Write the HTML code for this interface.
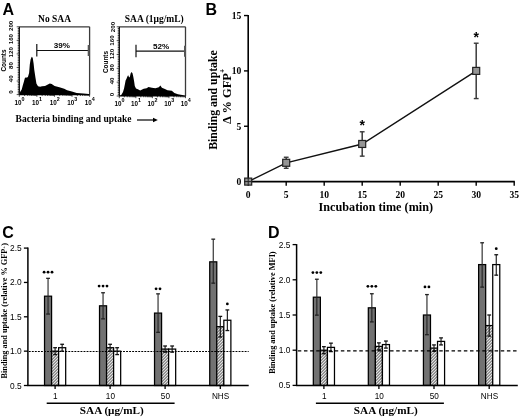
<!DOCTYPE html>
<html><head><meta charset="utf-8"><style>
html,body{margin:0;padding:0;background:#fff;}
svg{display:block;will-change:transform;filter:blur(0.3px);}
</style></head><body>
<svg width="520" height="418" viewBox="0 0 520 418">
<defs>
<pattern id="hatch" patternUnits="userSpaceOnUse" width="2.1213" height="2.1213" patternTransform="rotate(45)">
<rect width="2.1213" height="2.1213" fill="#fff"/>
<line x1="0.5" y1="0" x2="0.5" y2="2.1213" stroke="#3a3a3a" stroke-width="0.85"/>
</pattern>
</defs>
<rect width="520" height="418" fill="#fff"/>
<text x="2.50" y="14.60" font-family='"Liberation Sans", sans-serif' font-size="16" font-weight="bold" text-anchor="start" fill="#000">A</text>
<text x="54.55" y="22.00" font-family='"Liberation Serif", serif' font-size="9.5" font-weight="bold" text-anchor="middle" fill="#000">No SAA</text>
<polygon points="19.3,94.6 19.9,94.0 20.1,92.0 21.7,89.4 22.7,85.7 23.8,82.0 24.8,78.3 25.9,77.3 26.9,77.8 28.0,76.7 29.1,73.0 29.8,64.6 30.6,59.4 31.7,56.7 32.7,57.8 33.6,63.6 34.3,69.9 35.4,77.3 36.4,83.6 38.0,86.2 40.1,86.7 42.0,86.2 45.0,85.9 47.9,84.4 49.8,83.5 51.7,83.9 54.6,85.9 59.4,87.3 64.2,88.8 67.1,90.2 71.9,91.6 76.7,93.1 83.5,93.6 88.8,94.0 89.6,94.6" fill="#000"/>
<line x1="19.30" y1="26.80" x2="89.60" y2="26.80" stroke="#3a3a3a" stroke-width="1.3"/>
<line x1="89.60" y1="26.80" x2="89.60" y2="94.60" stroke="#3a3a3a" stroke-width="1.3"/>
<line x1="19.30" y1="26.80" x2="19.30" y2="94.60" stroke="#000" stroke-width="1.2"/>
<line x1="19.30" y1="94.60" x2="89.60" y2="94.60" stroke="#000" stroke-width="1.2"/>
<line x1="16.70" y1="94.60" x2="19.30" y2="94.60" stroke="#000" stroke-width="0.7"/>
<line x1="17.70" y1="92.91" x2="19.30" y2="92.91" stroke="#000" stroke-width="0.7"/>
<line x1="17.70" y1="91.21" x2="19.30" y2="91.21" stroke="#000" stroke-width="0.7"/>
<line x1="17.70" y1="89.52" x2="19.30" y2="89.52" stroke="#000" stroke-width="0.7"/>
<line x1="17.70" y1="87.82" x2="19.30" y2="87.82" stroke="#000" stroke-width="0.7"/>
<line x1="17.70" y1="86.12" x2="19.30" y2="86.12" stroke="#000" stroke-width="0.7"/>
<line x1="17.70" y1="84.43" x2="19.30" y2="84.43" stroke="#000" stroke-width="0.7"/>
<line x1="17.70" y1="82.73" x2="19.30" y2="82.73" stroke="#000" stroke-width="0.7"/>
<line x1="16.70" y1="81.04" x2="19.30" y2="81.04" stroke="#000" stroke-width="0.7"/>
<line x1="17.70" y1="79.34" x2="19.30" y2="79.34" stroke="#000" stroke-width="0.7"/>
<line x1="17.70" y1="77.65" x2="19.30" y2="77.65" stroke="#000" stroke-width="0.7"/>
<line x1="17.70" y1="75.95" x2="19.30" y2="75.95" stroke="#000" stroke-width="0.7"/>
<line x1="17.70" y1="74.26" x2="19.30" y2="74.26" stroke="#000" stroke-width="0.7"/>
<line x1="17.70" y1="72.56" x2="19.30" y2="72.56" stroke="#000" stroke-width="0.7"/>
<line x1="17.70" y1="70.87" x2="19.30" y2="70.87" stroke="#000" stroke-width="0.7"/>
<line x1="17.70" y1="69.17" x2="19.30" y2="69.17" stroke="#000" stroke-width="0.7"/>
<line x1="16.70" y1="67.48" x2="19.30" y2="67.48" stroke="#000" stroke-width="0.7"/>
<line x1="17.70" y1="65.78" x2="19.30" y2="65.78" stroke="#000" stroke-width="0.7"/>
<line x1="17.70" y1="64.09" x2="19.30" y2="64.09" stroke="#000" stroke-width="0.7"/>
<line x1="17.70" y1="62.39" x2="19.30" y2="62.39" stroke="#000" stroke-width="0.7"/>
<line x1="17.70" y1="60.70" x2="19.30" y2="60.70" stroke="#000" stroke-width="0.7"/>
<line x1="17.70" y1="59.00" x2="19.30" y2="59.00" stroke="#000" stroke-width="0.7"/>
<line x1="17.70" y1="57.31" x2="19.30" y2="57.31" stroke="#000" stroke-width="0.7"/>
<line x1="17.70" y1="55.61" x2="19.30" y2="55.61" stroke="#000" stroke-width="0.7"/>
<line x1="16.70" y1="53.92" x2="19.30" y2="53.92" stroke="#000" stroke-width="0.7"/>
<line x1="17.70" y1="52.22" x2="19.30" y2="52.22" stroke="#000" stroke-width="0.7"/>
<line x1="17.70" y1="50.53" x2="19.30" y2="50.53" stroke="#000" stroke-width="0.7"/>
<line x1="17.70" y1="48.83" x2="19.30" y2="48.83" stroke="#000" stroke-width="0.7"/>
<line x1="17.70" y1="47.14" x2="19.30" y2="47.14" stroke="#000" stroke-width="0.7"/>
<line x1="17.70" y1="45.45" x2="19.30" y2="45.45" stroke="#000" stroke-width="0.7"/>
<line x1="17.70" y1="43.75" x2="19.30" y2="43.75" stroke="#000" stroke-width="0.7"/>
<line x1="17.70" y1="42.05" x2="19.30" y2="42.05" stroke="#000" stroke-width="0.7"/>
<line x1="16.70" y1="40.36" x2="19.30" y2="40.36" stroke="#000" stroke-width="0.7"/>
<line x1="17.70" y1="38.66" x2="19.30" y2="38.66" stroke="#000" stroke-width="0.7"/>
<line x1="17.70" y1="36.97" x2="19.30" y2="36.97" stroke="#000" stroke-width="0.7"/>
<line x1="17.70" y1="35.27" x2="19.30" y2="35.27" stroke="#000" stroke-width="0.7"/>
<line x1="17.70" y1="33.58" x2="19.30" y2="33.58" stroke="#000" stroke-width="0.7"/>
<line x1="17.70" y1="31.88" x2="19.30" y2="31.88" stroke="#000" stroke-width="0.7"/>
<line x1="17.70" y1="30.19" x2="19.30" y2="30.19" stroke="#000" stroke-width="0.7"/>
<line x1="17.70" y1="28.50" x2="19.30" y2="28.50" stroke="#000" stroke-width="0.7"/>
<line x1="16.70" y1="26.80" x2="19.30" y2="26.80" stroke="#000" stroke-width="0.7"/>
<text x="10.40" y="91.90" font-family='"Liberation Sans", sans-serif' font-size="6.2" font-weight="bold" text-anchor="middle" fill="#000" transform="rotate(-90 10.4 91.9)" dominant-baseline="central">0</text>
<text x="10.40" y="78.70" font-family='"Liberation Sans", sans-serif' font-size="6.2" font-weight="bold" text-anchor="middle" fill="#000" transform="rotate(-90 10.4 78.7)" dominant-baseline="central">40</text>
<text x="10.40" y="65.50" font-family='"Liberation Sans", sans-serif' font-size="6.2" font-weight="bold" text-anchor="middle" fill="#000" transform="rotate(-90 10.4 65.5)" dominant-baseline="central">80</text>
<text x="10.40" y="52.30" font-family='"Liberation Sans", sans-serif' font-size="6.2" font-weight="bold" text-anchor="middle" fill="#000" transform="rotate(-90 10.4 52.30000000000001)" dominant-baseline="central">120</text>
<text x="10.40" y="39.10" font-family='"Liberation Sans", sans-serif' font-size="6.2" font-weight="bold" text-anchor="middle" fill="#000" transform="rotate(-90 10.4 39.10000000000001)" dominant-baseline="central">160</text>
<text x="10.40" y="25.90" font-family='"Liberation Sans", sans-serif' font-size="6.2" font-weight="bold" text-anchor="middle" fill="#000" transform="rotate(-90 10.4 25.900000000000006)" dominant-baseline="central">200</text>
<text x="3.10" y="60.50" font-family='"Liberation Sans", sans-serif' font-size="6.4" font-weight="bold" text-anchor="middle" fill="#000" transform="rotate(-90 3.1000000000000014 60.5)" dominant-baseline="central">Counts</text>
<line x1="19.30" y1="94.60" x2="19.30" y2="96.80" stroke="#000" stroke-width="0.7"/>
<line x1="24.59" y1="94.60" x2="24.59" y2="95.90" stroke="#000" stroke-width="0.7"/>
<line x1="27.69" y1="94.60" x2="27.69" y2="95.90" stroke="#000" stroke-width="0.7"/>
<line x1="29.88" y1="94.60" x2="29.88" y2="95.90" stroke="#000" stroke-width="0.7"/>
<line x1="31.58" y1="94.60" x2="31.58" y2="95.90" stroke="#000" stroke-width="0.7"/>
<line x1="32.98" y1="94.60" x2="32.98" y2="95.90" stroke="#000" stroke-width="0.7"/>
<line x1="34.15" y1="94.60" x2="34.15" y2="95.90" stroke="#000" stroke-width="0.7"/>
<line x1="35.17" y1="94.60" x2="35.17" y2="95.90" stroke="#000" stroke-width="0.7"/>
<line x1="36.07" y1="94.60" x2="36.07" y2="95.90" stroke="#000" stroke-width="0.7"/>
<line x1="36.88" y1="94.60" x2="36.88" y2="96.80" stroke="#000" stroke-width="0.7"/>
<line x1="42.17" y1="94.60" x2="42.17" y2="95.90" stroke="#000" stroke-width="0.7"/>
<line x1="45.26" y1="94.60" x2="45.26" y2="95.90" stroke="#000" stroke-width="0.7"/>
<line x1="47.46" y1="94.60" x2="47.46" y2="95.90" stroke="#000" stroke-width="0.7"/>
<line x1="49.16" y1="94.60" x2="49.16" y2="95.90" stroke="#000" stroke-width="0.7"/>
<line x1="50.55" y1="94.60" x2="50.55" y2="95.90" stroke="#000" stroke-width="0.7"/>
<line x1="51.73" y1="94.60" x2="51.73" y2="95.90" stroke="#000" stroke-width="0.7"/>
<line x1="52.75" y1="94.60" x2="52.75" y2="95.90" stroke="#000" stroke-width="0.7"/>
<line x1="53.65" y1="94.60" x2="53.65" y2="95.90" stroke="#000" stroke-width="0.7"/>
<line x1="54.45" y1="94.60" x2="54.45" y2="96.80" stroke="#000" stroke-width="0.7"/>
<line x1="59.74" y1="94.60" x2="59.74" y2="95.90" stroke="#000" stroke-width="0.7"/>
<line x1="62.84" y1="94.60" x2="62.84" y2="95.90" stroke="#000" stroke-width="0.7"/>
<line x1="65.03" y1="94.60" x2="65.03" y2="95.90" stroke="#000" stroke-width="0.7"/>
<line x1="66.73" y1="94.60" x2="66.73" y2="95.90" stroke="#000" stroke-width="0.7"/>
<line x1="68.13" y1="94.60" x2="68.13" y2="95.90" stroke="#000" stroke-width="0.7"/>
<line x1="69.30" y1="94.60" x2="69.30" y2="95.90" stroke="#000" stroke-width="0.7"/>
<line x1="70.32" y1="94.60" x2="70.32" y2="95.90" stroke="#000" stroke-width="0.7"/>
<line x1="71.22" y1="94.60" x2="71.22" y2="95.90" stroke="#000" stroke-width="0.7"/>
<line x1="72.02" y1="94.60" x2="72.02" y2="96.80" stroke="#000" stroke-width="0.7"/>
<line x1="77.32" y1="94.60" x2="77.32" y2="95.90" stroke="#000" stroke-width="0.7"/>
<line x1="80.41" y1="94.60" x2="80.41" y2="95.90" stroke="#000" stroke-width="0.7"/>
<line x1="82.61" y1="94.60" x2="82.61" y2="95.90" stroke="#000" stroke-width="0.7"/>
<line x1="84.31" y1="94.60" x2="84.31" y2="95.90" stroke="#000" stroke-width="0.7"/>
<line x1="85.70" y1="94.60" x2="85.70" y2="95.90" stroke="#000" stroke-width="0.7"/>
<line x1="86.88" y1="94.60" x2="86.88" y2="95.90" stroke="#000" stroke-width="0.7"/>
<line x1="87.90" y1="94.60" x2="87.90" y2="95.90" stroke="#000" stroke-width="0.7"/>
<line x1="88.80" y1="94.60" x2="88.80" y2="95.90" stroke="#000" stroke-width="0.7"/>
<line x1="89.60" y1="94.60" x2="89.60" y2="96.80" stroke="#000" stroke-width="0.7"/>
<text x="18.00" y="104.60" font-family='"Liberation Sans", sans-serif' font-size="6.3" font-weight="bold" text-anchor="middle" fill="#000">10</text>
<text x="21.50" y="100.60" font-family='"Liberation Sans", sans-serif' font-size="5.4" font-weight="bold" text-anchor="start" fill="#000">0</text>
<text x="35.58" y="104.60" font-family='"Liberation Sans", sans-serif' font-size="6.3" font-weight="bold" text-anchor="middle" fill="#000">10</text>
<text x="39.08" y="100.60" font-family='"Liberation Sans", sans-serif' font-size="5.4" font-weight="bold" text-anchor="start" fill="#000">1</text>
<text x="53.15" y="104.60" font-family='"Liberation Sans", sans-serif' font-size="6.3" font-weight="bold" text-anchor="middle" fill="#000">10</text>
<text x="56.65" y="100.60" font-family='"Liberation Sans", sans-serif' font-size="5.4" font-weight="bold" text-anchor="start" fill="#000">2</text>
<text x="70.72" y="104.60" font-family='"Liberation Sans", sans-serif' font-size="6.3" font-weight="bold" text-anchor="middle" fill="#000">10</text>
<text x="74.22" y="100.60" font-family='"Liberation Sans", sans-serif' font-size="5.4" font-weight="bold" text-anchor="start" fill="#000">3</text>
<text x="88.30" y="104.60" font-family='"Liberation Sans", sans-serif' font-size="6.3" font-weight="bold" text-anchor="middle" fill="#000">10</text>
<text x="91.80" y="100.60" font-family='"Liberation Sans", sans-serif' font-size="5.4" font-weight="bold" text-anchor="start" fill="#000">4</text>
<line x1="36.80" y1="50.50" x2="88.70" y2="50.50" stroke="#111" stroke-width="1.2"/>
<line x1="36.80" y1="44.00" x2="36.80" y2="56.50" stroke="#111" stroke-width="1.2"/>
<line x1="88.70" y1="45.00" x2="88.70" y2="56.00" stroke="#555" stroke-width="2.0"/>
<text x="61.90" y="48.00" font-family='"Liberation Sans", sans-serif' font-size="8.1" font-weight="bold" text-anchor="middle" fill="#000">39%</text>
<text x="154.30" y="22.00" font-family='"Liberation Serif", serif' font-size="9.5" font-weight="bold" text-anchor="middle" fill="#000">SAA (1μg/mL)</text>
<polygon points="119.3,96.0 119.5,96.0 121.4,94.7 123.0,92.0 124.1,88.2 124.9,84.3 125.6,80.5 126.4,79.0 127.6,75.9 128.3,75.2 129.1,77.5 129.9,76.7 130.6,73.6 131.6,72.1 132.5,73.3 133.3,76.7 134.1,81.3 134.8,85.9 136.0,88.6 137.9,89.3 140.2,90.5 141.7,89.7 143.7,88.7 146.6,88.2 148.5,86.9 151.9,87.7 155.4,88.2 158.8,87.3 160.4,85.6 161.9,87.7 164.9,89.0 167.5,90.3 171.8,90.8 174.4,92.9 177.9,94.2 182.2,95.1 184.8,95.8 185.5,96.0" fill="#000"/>
<line x1="119.30" y1="26.80" x2="185.50" y2="26.80" stroke="#3a3a3a" stroke-width="1.3"/>
<line x1="185.50" y1="26.80" x2="185.50" y2="96.00" stroke="#3a3a3a" stroke-width="1.3"/>
<line x1="119.30" y1="26.80" x2="119.30" y2="96.00" stroke="#000" stroke-width="1.2"/>
<line x1="119.30" y1="96.00" x2="185.50" y2="96.00" stroke="#000" stroke-width="1.2"/>
<line x1="116.70" y1="96.00" x2="119.30" y2="96.00" stroke="#000" stroke-width="0.7"/>
<line x1="117.70" y1="94.27" x2="119.30" y2="94.27" stroke="#000" stroke-width="0.7"/>
<line x1="117.70" y1="92.54" x2="119.30" y2="92.54" stroke="#000" stroke-width="0.7"/>
<line x1="117.70" y1="90.81" x2="119.30" y2="90.81" stroke="#000" stroke-width="0.7"/>
<line x1="117.70" y1="89.08" x2="119.30" y2="89.08" stroke="#000" stroke-width="0.7"/>
<line x1="117.70" y1="87.35" x2="119.30" y2="87.35" stroke="#000" stroke-width="0.7"/>
<line x1="117.70" y1="85.62" x2="119.30" y2="85.62" stroke="#000" stroke-width="0.7"/>
<line x1="117.70" y1="83.89" x2="119.30" y2="83.89" stroke="#000" stroke-width="0.7"/>
<line x1="116.70" y1="82.16" x2="119.30" y2="82.16" stroke="#000" stroke-width="0.7"/>
<line x1="117.70" y1="80.43" x2="119.30" y2="80.43" stroke="#000" stroke-width="0.7"/>
<line x1="117.70" y1="78.70" x2="119.30" y2="78.70" stroke="#000" stroke-width="0.7"/>
<line x1="117.70" y1="76.97" x2="119.30" y2="76.97" stroke="#000" stroke-width="0.7"/>
<line x1="117.70" y1="75.24" x2="119.30" y2="75.24" stroke="#000" stroke-width="0.7"/>
<line x1="117.70" y1="73.51" x2="119.30" y2="73.51" stroke="#000" stroke-width="0.7"/>
<line x1="117.70" y1="71.78" x2="119.30" y2="71.78" stroke="#000" stroke-width="0.7"/>
<line x1="117.70" y1="70.05" x2="119.30" y2="70.05" stroke="#000" stroke-width="0.7"/>
<line x1="116.70" y1="68.32" x2="119.30" y2="68.32" stroke="#000" stroke-width="0.7"/>
<line x1="117.70" y1="66.59" x2="119.30" y2="66.59" stroke="#000" stroke-width="0.7"/>
<line x1="117.70" y1="64.86" x2="119.30" y2="64.86" stroke="#000" stroke-width="0.7"/>
<line x1="117.70" y1="63.13" x2="119.30" y2="63.13" stroke="#000" stroke-width="0.7"/>
<line x1="117.70" y1="61.40" x2="119.30" y2="61.40" stroke="#000" stroke-width="0.7"/>
<line x1="117.70" y1="59.67" x2="119.30" y2="59.67" stroke="#000" stroke-width="0.7"/>
<line x1="117.70" y1="57.94" x2="119.30" y2="57.94" stroke="#000" stroke-width="0.7"/>
<line x1="117.70" y1="56.21" x2="119.30" y2="56.21" stroke="#000" stroke-width="0.7"/>
<line x1="116.70" y1="54.48" x2="119.30" y2="54.48" stroke="#000" stroke-width="0.7"/>
<line x1="117.70" y1="52.75" x2="119.30" y2="52.75" stroke="#000" stroke-width="0.7"/>
<line x1="117.70" y1="51.02" x2="119.30" y2="51.02" stroke="#000" stroke-width="0.7"/>
<line x1="117.70" y1="49.29" x2="119.30" y2="49.29" stroke="#000" stroke-width="0.7"/>
<line x1="117.70" y1="47.56" x2="119.30" y2="47.56" stroke="#000" stroke-width="0.7"/>
<line x1="117.70" y1="45.83" x2="119.30" y2="45.83" stroke="#000" stroke-width="0.7"/>
<line x1="117.70" y1="44.10" x2="119.30" y2="44.10" stroke="#000" stroke-width="0.7"/>
<line x1="117.70" y1="42.37" x2="119.30" y2="42.37" stroke="#000" stroke-width="0.7"/>
<line x1="116.70" y1="40.64" x2="119.30" y2="40.64" stroke="#000" stroke-width="0.7"/>
<line x1="117.70" y1="38.91" x2="119.30" y2="38.91" stroke="#000" stroke-width="0.7"/>
<line x1="117.70" y1="37.18" x2="119.30" y2="37.18" stroke="#000" stroke-width="0.7"/>
<line x1="117.70" y1="35.45" x2="119.30" y2="35.45" stroke="#000" stroke-width="0.7"/>
<line x1="117.70" y1="33.72" x2="119.30" y2="33.72" stroke="#000" stroke-width="0.7"/>
<line x1="117.70" y1="31.99" x2="119.30" y2="31.99" stroke="#000" stroke-width="0.7"/>
<line x1="117.70" y1="30.26" x2="119.30" y2="30.26" stroke="#000" stroke-width="0.7"/>
<line x1="117.70" y1="28.53" x2="119.30" y2="28.53" stroke="#000" stroke-width="0.7"/>
<line x1="116.70" y1="26.80" x2="119.30" y2="26.80" stroke="#000" stroke-width="0.7"/>
<text x="112.00" y="94.40" font-family='"Liberation Sans", sans-serif' font-size="6.2" font-weight="bold" text-anchor="middle" fill="#000" transform="rotate(-90 112.0 94.4)" dominant-baseline="central">0</text>
<text x="112.00" y="80.92" font-family='"Liberation Sans", sans-serif' font-size="6.2" font-weight="bold" text-anchor="middle" fill="#000" transform="rotate(-90 112.0 80.92)" dominant-baseline="central">40</text>
<text x="112.00" y="67.44" font-family='"Liberation Sans", sans-serif' font-size="6.2" font-weight="bold" text-anchor="middle" fill="#000" transform="rotate(-90 112.0 67.44)" dominant-baseline="central">80</text>
<text x="112.00" y="53.96" font-family='"Liberation Sans", sans-serif' font-size="6.2" font-weight="bold" text-anchor="middle" fill="#000" transform="rotate(-90 112.0 53.96000000000001)" dominant-baseline="central">120</text>
<text x="112.00" y="40.48" font-family='"Liberation Sans", sans-serif' font-size="6.2" font-weight="bold" text-anchor="middle" fill="#000" transform="rotate(-90 112.0 40.480000000000004)" dominant-baseline="central">160</text>
<text x="112.00" y="27.00" font-family='"Liberation Sans", sans-serif' font-size="6.2" font-weight="bold" text-anchor="middle" fill="#000" transform="rotate(-90 112.0 27.0)" dominant-baseline="central">200</text>
<text x="105.10" y="62.00" font-family='"Liberation Sans", sans-serif' font-size="6.4" font-weight="bold" text-anchor="middle" fill="#000" transform="rotate(-90 105.1 62.0)" dominant-baseline="central">Counts</text>
<line x1="119.30" y1="96.00" x2="119.30" y2="98.20" stroke="#000" stroke-width="0.7"/>
<line x1="124.28" y1="96.00" x2="124.28" y2="97.30" stroke="#000" stroke-width="0.7"/>
<line x1="127.20" y1="96.00" x2="127.20" y2="97.30" stroke="#000" stroke-width="0.7"/>
<line x1="129.26" y1="96.00" x2="129.26" y2="97.30" stroke="#000" stroke-width="0.7"/>
<line x1="130.87" y1="96.00" x2="130.87" y2="97.30" stroke="#000" stroke-width="0.7"/>
<line x1="132.18" y1="96.00" x2="132.18" y2="97.30" stroke="#000" stroke-width="0.7"/>
<line x1="133.29" y1="96.00" x2="133.29" y2="97.30" stroke="#000" stroke-width="0.7"/>
<line x1="134.25" y1="96.00" x2="134.25" y2="97.30" stroke="#000" stroke-width="0.7"/>
<line x1="135.09" y1="96.00" x2="135.09" y2="97.30" stroke="#000" stroke-width="0.7"/>
<line x1="135.85" y1="96.00" x2="135.85" y2="98.20" stroke="#000" stroke-width="0.7"/>
<line x1="140.83" y1="96.00" x2="140.83" y2="97.30" stroke="#000" stroke-width="0.7"/>
<line x1="143.75" y1="96.00" x2="143.75" y2="97.30" stroke="#000" stroke-width="0.7"/>
<line x1="145.81" y1="96.00" x2="145.81" y2="97.30" stroke="#000" stroke-width="0.7"/>
<line x1="147.42" y1="96.00" x2="147.42" y2="97.30" stroke="#000" stroke-width="0.7"/>
<line x1="148.73" y1="96.00" x2="148.73" y2="97.30" stroke="#000" stroke-width="0.7"/>
<line x1="149.84" y1="96.00" x2="149.84" y2="97.30" stroke="#000" stroke-width="0.7"/>
<line x1="150.80" y1="96.00" x2="150.80" y2="97.30" stroke="#000" stroke-width="0.7"/>
<line x1="151.64" y1="96.00" x2="151.64" y2="97.30" stroke="#000" stroke-width="0.7"/>
<line x1="152.40" y1="96.00" x2="152.40" y2="98.20" stroke="#000" stroke-width="0.7"/>
<line x1="157.38" y1="96.00" x2="157.38" y2="97.30" stroke="#000" stroke-width="0.7"/>
<line x1="160.30" y1="96.00" x2="160.30" y2="97.30" stroke="#000" stroke-width="0.7"/>
<line x1="162.36" y1="96.00" x2="162.36" y2="97.30" stroke="#000" stroke-width="0.7"/>
<line x1="163.97" y1="96.00" x2="163.97" y2="97.30" stroke="#000" stroke-width="0.7"/>
<line x1="165.28" y1="96.00" x2="165.28" y2="97.30" stroke="#000" stroke-width="0.7"/>
<line x1="166.39" y1="96.00" x2="166.39" y2="97.30" stroke="#000" stroke-width="0.7"/>
<line x1="167.35" y1="96.00" x2="167.35" y2="97.30" stroke="#000" stroke-width="0.7"/>
<line x1="168.19" y1="96.00" x2="168.19" y2="97.30" stroke="#000" stroke-width="0.7"/>
<line x1="168.95" y1="96.00" x2="168.95" y2="98.20" stroke="#000" stroke-width="0.7"/>
<line x1="173.93" y1="96.00" x2="173.93" y2="97.30" stroke="#000" stroke-width="0.7"/>
<line x1="176.85" y1="96.00" x2="176.85" y2="97.30" stroke="#000" stroke-width="0.7"/>
<line x1="178.91" y1="96.00" x2="178.91" y2="97.30" stroke="#000" stroke-width="0.7"/>
<line x1="180.52" y1="96.00" x2="180.52" y2="97.30" stroke="#000" stroke-width="0.7"/>
<line x1="181.83" y1="96.00" x2="181.83" y2="97.30" stroke="#000" stroke-width="0.7"/>
<line x1="182.94" y1="96.00" x2="182.94" y2="97.30" stroke="#000" stroke-width="0.7"/>
<line x1="183.90" y1="96.00" x2="183.90" y2="97.30" stroke="#000" stroke-width="0.7"/>
<line x1="184.74" y1="96.00" x2="184.74" y2="97.30" stroke="#000" stroke-width="0.7"/>
<line x1="185.50" y1="96.00" x2="185.50" y2="98.20" stroke="#000" stroke-width="0.7"/>
<text x="118.00" y="106.00" font-family='"Liberation Sans", sans-serif' font-size="6.3" font-weight="bold" text-anchor="middle" fill="#000">10</text>
<text x="121.50" y="102.00" font-family='"Liberation Sans", sans-serif' font-size="5.4" font-weight="bold" text-anchor="start" fill="#000">0</text>
<text x="134.55" y="106.00" font-family='"Liberation Sans", sans-serif' font-size="6.3" font-weight="bold" text-anchor="middle" fill="#000">10</text>
<text x="138.05" y="102.00" font-family='"Liberation Sans", sans-serif' font-size="5.4" font-weight="bold" text-anchor="start" fill="#000">1</text>
<text x="151.10" y="106.00" font-family='"Liberation Sans", sans-serif' font-size="6.3" font-weight="bold" text-anchor="middle" fill="#000">10</text>
<text x="154.60" y="102.00" font-family='"Liberation Sans", sans-serif' font-size="5.4" font-weight="bold" text-anchor="start" fill="#000">2</text>
<text x="167.65" y="106.00" font-family='"Liberation Sans", sans-serif' font-size="6.3" font-weight="bold" text-anchor="middle" fill="#000">10</text>
<text x="171.15" y="102.00" font-family='"Liberation Sans", sans-serif' font-size="5.4" font-weight="bold" text-anchor="start" fill="#000">3</text>
<text x="184.20" y="106.00" font-family='"Liberation Sans", sans-serif' font-size="6.3" font-weight="bold" text-anchor="middle" fill="#000">10</text>
<text x="187.70" y="102.00" font-family='"Liberation Sans", sans-serif' font-size="5.4" font-weight="bold" text-anchor="start" fill="#000">4</text>
<line x1="136.00" y1="51.20" x2="185.00" y2="51.20" stroke="#111" stroke-width="1.2"/>
<line x1="136.00" y1="44.70" x2="136.00" y2="57.20" stroke="#111" stroke-width="1.2"/>
<line x1="185.00" y1="45.70" x2="185.00" y2="56.70" stroke="#555" stroke-width="2.0"/>
<text x="161.20" y="48.70" font-family='"Liberation Sans", sans-serif' font-size="8.1" font-weight="bold" text-anchor="middle" fill="#000">52%</text>
<text x="15.60" y="121.80" font-family='"Liberation Serif", serif' font-size="9.5" font-weight="bold" text-anchor="start" fill="#000">Bacteria binding and uptake</text>
<line x1="137.00" y1="120.00" x2="154.00" y2="120.00" stroke="#000" stroke-width="1.2"/>
<polygon points="153,117.8 157.8,120 153,122.2" fill="#000"/>
<text x="205.50" y="14.60" font-family='"Liberation Sans", sans-serif' font-size="16" font-weight="bold" text-anchor="start" fill="#000">B</text>
<line x1="248.20" y1="15.05" x2="248.20" y2="182.20" stroke="#000" stroke-width="1.6"/>
<line x1="247.60" y1="181.60" x2="514.80" y2="181.60" stroke="#000" stroke-width="1.6"/>
<line x1="244.00" y1="181.60" x2="248.20" y2="181.60" stroke="#000" stroke-width="1.4"/>
<text x="241.40" y="184.90" font-family='"Liberation Serif", serif' font-size="9.6" font-weight="bold" text-anchor="end" fill="#000">0</text>
<line x1="244.00" y1="126.25" x2="248.20" y2="126.25" stroke="#000" stroke-width="1.4"/>
<text x="241.40" y="129.55" font-family='"Liberation Serif", serif' font-size="9.6" font-weight="bold" text-anchor="end" fill="#000">5</text>
<line x1="244.00" y1="70.90" x2="248.20" y2="70.90" stroke="#000" stroke-width="1.4"/>
<text x="241.40" y="74.20" font-family='"Liberation Serif", serif' font-size="9.6" font-weight="bold" text-anchor="end" fill="#000">10</text>
<line x1="244.00" y1="15.55" x2="248.20" y2="15.55" stroke="#000" stroke-width="1.4"/>
<text x="241.40" y="18.85" font-family='"Liberation Serif", serif' font-size="9.6" font-weight="bold" text-anchor="end" fill="#000">15</text>
<line x1="248.20" y1="181.60" x2="248.20" y2="185.80" stroke="#000" stroke-width="1.4"/>
<text x="248.20" y="198.10" font-family='"Liberation Serif", serif' font-size="9.6" font-weight="bold" text-anchor="middle" fill="#000">0</text>
<line x1="286.20" y1="181.60" x2="286.20" y2="185.80" stroke="#000" stroke-width="1.4"/>
<text x="286.20" y="198.10" font-family='"Liberation Serif", serif' font-size="9.6" font-weight="bold" text-anchor="middle" fill="#000">5</text>
<line x1="324.20" y1="181.60" x2="324.20" y2="185.80" stroke="#000" stroke-width="1.4"/>
<text x="324.20" y="198.10" font-family='"Liberation Serif", serif' font-size="9.6" font-weight="bold" text-anchor="middle" fill="#000">10</text>
<line x1="362.20" y1="181.60" x2="362.20" y2="185.80" stroke="#000" stroke-width="1.4"/>
<text x="362.20" y="198.10" font-family='"Liberation Serif", serif' font-size="9.6" font-weight="bold" text-anchor="middle" fill="#000">15</text>
<line x1="400.20" y1="181.60" x2="400.20" y2="185.80" stroke="#000" stroke-width="1.4"/>
<text x="400.20" y="198.10" font-family='"Liberation Serif", serif' font-size="9.6" font-weight="bold" text-anchor="middle" fill="#000">20</text>
<line x1="438.20" y1="181.60" x2="438.20" y2="185.80" stroke="#000" stroke-width="1.4"/>
<text x="438.20" y="198.10" font-family='"Liberation Serif", serif' font-size="9.6" font-weight="bold" text-anchor="middle" fill="#000">25</text>
<line x1="476.20" y1="181.60" x2="476.20" y2="185.80" stroke="#000" stroke-width="1.4"/>
<text x="476.20" y="198.10" font-family='"Liberation Serif", serif' font-size="9.6" font-weight="bold" text-anchor="middle" fill="#000">30</text>
<line x1="514.20" y1="181.60" x2="514.20" y2="185.80" stroke="#000" stroke-width="1.4"/>
<text x="514.20" y="198.10" font-family='"Liberation Serif", serif' font-size="9.6" font-weight="bold" text-anchor="middle" fill="#000">35</text>
<text x="375.80" y="210.60" font-family='"Liberation Serif", serif' font-size="12.2" font-weight="bold" text-anchor="middle" fill="#000">Incubation time (min)</text>
<text x="216.60" y="100.00" font-family='"Liberation Serif", serif' font-size="11.8" font-weight="bold" text-anchor="middle" fill="#000" transform="rotate(-90 216.6 100.0)">Binding and uptake</text>
<text x="231.0" y="96.3" font-family='"Liberation Serif", serif' font-size="12.5" font-weight="bold" text-anchor="middle" transform="rotate(-90 231.0 96.3)">Δ % GFP<tspan font-size="7.5" dy="-5.5">+</tspan></text>
<polyline points="248.2,181.6 286.2,162.8 362.2,144.0 476.2,70.9" fill="none" stroke="#111" stroke-width="1.4"/>
<line x1="248.20" y1="179.94" x2="248.20" y2="183.26" stroke="#3a3a3a" stroke-width="1.5"/>
<line x1="245.80" y1="179.94" x2="250.60" y2="179.94" stroke="#3a3a3a" stroke-width="1.4"/>
<line x1="245.80" y1="183.26" x2="250.60" y2="183.26" stroke="#3a3a3a" stroke-width="1.4"/>
<rect x="244.70" y="178.10" width="7.00" height="7.00" fill="#959595" stroke="#222" stroke-width="1.2"/>
<line x1="248.20" y1="178.10" x2="248.20" y2="185.10" stroke="#222" stroke-width="1.0"/>
<line x1="244.70" y1="181.60" x2="251.70" y2="181.60" stroke="#222" stroke-width="1.0"/>
<line x1="286.20" y1="157.25" x2="286.20" y2="168.32" stroke="#3a3a3a" stroke-width="1.5"/>
<line x1="283.80" y1="157.25" x2="288.60" y2="157.25" stroke="#3a3a3a" stroke-width="1.4"/>
<line x1="283.80" y1="168.32" x2="288.60" y2="168.32" stroke="#3a3a3a" stroke-width="1.4"/>
<rect x="282.70" y="159.28" width="7.00" height="7.00" fill="#959595" stroke="#222" stroke-width="1.2"/>
<line x1="362.20" y1="131.78" x2="362.20" y2="156.14" stroke="#3a3a3a" stroke-width="1.5"/>
<line x1="359.80" y1="131.78" x2="364.60" y2="131.78" stroke="#3a3a3a" stroke-width="1.4"/>
<line x1="359.80" y1="156.14" x2="364.60" y2="156.14" stroke="#3a3a3a" stroke-width="1.4"/>
<rect x="358.70" y="140.46" width="7.00" height="7.00" fill="#959595" stroke="#222" stroke-width="1.2"/>
<line x1="476.20" y1="43.22" x2="476.20" y2="98.57" stroke="#3a3a3a" stroke-width="1.5"/>
<line x1="473.80" y1="43.22" x2="478.60" y2="43.22" stroke="#3a3a3a" stroke-width="1.4"/>
<line x1="473.80" y1="98.57" x2="478.60" y2="98.57" stroke="#3a3a3a" stroke-width="1.4"/>
<rect x="472.70" y="67.40" width="7.00" height="7.00" fill="#959595" stroke="#222" stroke-width="1.2"/>
<text x="362.20" y="130.40" font-family='"Liberation Sans", sans-serif' font-size="14" font-weight="bold" text-anchor="middle" fill="#000">*</text>
<text x="476.20" y="42.30" font-family='"Liberation Sans", sans-serif' font-size="14" font-weight="bold" text-anchor="middle" fill="#000">*</text>
<text x="2.30" y="237.50" font-family='"Liberation Sans", sans-serif' font-size="16" font-weight="bold" text-anchor="start" fill="#000">C</text>
<rect x="44.53" y="296.19" width="7.05" height="89.31" fill="#727272" stroke="#000" stroke-width="1.25"/>
<line x1="48.05" y1="278.33" x2="48.05" y2="314.05" stroke="#222" stroke-width="1.1"/>
<line x1="46.15" y1="278.33" x2="49.95" y2="278.33" stroke="#222" stroke-width="1.3"/>
<line x1="46.15" y1="314.05" x2="49.95" y2="314.05" stroke="#222" stroke-width="1.3"/>
<rect x="51.58" y="351.15" width="7.05" height="34.35" fill="url(#hatch)" stroke="#000" stroke-width="1.25"/>
<line x1="55.10" y1="347.71" x2="55.10" y2="354.58" stroke="#111" stroke-width="1.1"/>
<line x1="53.20" y1="347.71" x2="57.00" y2="347.71" stroke="#111" stroke-width="1.3"/>
<line x1="53.20" y1="354.58" x2="57.00" y2="354.58" stroke="#111" stroke-width="1.3"/>
<rect x="58.63" y="347.71" width="7.05" height="37.79" fill="#fff" stroke="#000" stroke-width="1.25"/>
<line x1="62.15" y1="344.28" x2="62.15" y2="351.15" stroke="#111" stroke-width="1.1"/>
<line x1="60.25" y1="344.28" x2="64.05" y2="344.28" stroke="#111" stroke-width="1.3"/>
<line x1="60.25" y1="351.15" x2="64.05" y2="351.15" stroke="#111" stroke-width="1.3"/>
<rect x="99.52" y="305.81" width="7.05" height="79.69" fill="#727272" stroke="#000" stroke-width="1.25"/>
<line x1="103.05" y1="292.75" x2="103.05" y2="318.86" stroke="#222" stroke-width="1.1"/>
<line x1="101.15" y1="292.75" x2="104.95" y2="292.75" stroke="#222" stroke-width="1.3"/>
<line x1="101.15" y1="318.86" x2="104.95" y2="318.86" stroke="#222" stroke-width="1.3"/>
<rect x="106.57" y="347.71" width="7.05" height="37.79" fill="url(#hatch)" stroke="#000" stroke-width="1.25"/>
<line x1="110.10" y1="344.28" x2="110.10" y2="351.15" stroke="#111" stroke-width="1.1"/>
<line x1="108.20" y1="344.28" x2="112.00" y2="344.28" stroke="#111" stroke-width="1.3"/>
<line x1="108.20" y1="351.15" x2="112.00" y2="351.15" stroke="#111" stroke-width="1.3"/>
<rect x="113.62" y="351.15" width="7.05" height="34.35" fill="#fff" stroke="#000" stroke-width="1.25"/>
<line x1="117.15" y1="347.71" x2="117.15" y2="354.58" stroke="#111" stroke-width="1.1"/>
<line x1="115.25" y1="347.71" x2="119.05" y2="347.71" stroke="#111" stroke-width="1.3"/>
<line x1="115.25" y1="354.58" x2="119.05" y2="354.58" stroke="#111" stroke-width="1.3"/>
<rect x="154.53" y="313.09" width="7.05" height="72.41" fill="#727272" stroke="#000" stroke-width="1.25"/>
<line x1="158.05" y1="293.85" x2="158.05" y2="332.33" stroke="#222" stroke-width="1.1"/>
<line x1="156.15" y1="293.85" x2="159.95" y2="293.85" stroke="#222" stroke-width="1.3"/>
<line x1="156.15" y1="332.33" x2="159.95" y2="332.33" stroke="#222" stroke-width="1.3"/>
<rect x="161.58" y="349.09" width="7.05" height="36.41" fill="url(#hatch)" stroke="#000" stroke-width="1.25"/>
<line x1="165.10" y1="346.00" x2="165.10" y2="352.18" stroke="#111" stroke-width="1.1"/>
<line x1="163.20" y1="346.00" x2="167.00" y2="346.00" stroke="#111" stroke-width="1.3"/>
<line x1="163.20" y1="352.18" x2="167.00" y2="352.18" stroke="#111" stroke-width="1.3"/>
<rect x="168.62" y="349.09" width="7.05" height="36.41" fill="#fff" stroke="#000" stroke-width="1.25"/>
<line x1="172.15" y1="346.00" x2="172.15" y2="352.18" stroke="#111" stroke-width="1.1"/>
<line x1="170.25" y1="346.00" x2="174.05" y2="346.00" stroke="#111" stroke-width="1.3"/>
<line x1="170.25" y1="352.18" x2="174.05" y2="352.18" stroke="#111" stroke-width="1.3"/>
<rect x="209.73" y="261.84" width="7.05" height="123.66" fill="#727272" stroke="#000" stroke-width="1.25"/>
<line x1="213.25" y1="239.17" x2="213.25" y2="283.14" stroke="#222" stroke-width="1.1"/>
<line x1="211.35" y1="239.17" x2="215.15" y2="239.17" stroke="#222" stroke-width="1.3"/>
<line x1="211.35" y1="283.14" x2="215.15" y2="283.14" stroke="#222" stroke-width="1.3"/>
<rect x="216.78" y="326.69" width="7.05" height="58.81" fill="url(#hatch)" stroke="#000" stroke-width="1.25"/>
<line x1="220.30" y1="316.39" x2="220.30" y2="337.00" stroke="#111" stroke-width="1.1"/>
<line x1="218.40" y1="316.39" x2="222.20" y2="316.39" stroke="#111" stroke-width="1.3"/>
<line x1="218.40" y1="337.00" x2="222.20" y2="337.00" stroke="#111" stroke-width="1.3"/>
<rect x="223.83" y="320.24" width="7.05" height="65.26" fill="#fff" stroke="#000" stroke-width="1.25"/>
<line x1="227.35" y1="309.93" x2="227.35" y2="330.54" stroke="#111" stroke-width="1.1"/>
<line x1="225.45" y1="309.93" x2="229.25" y2="309.93" stroke="#111" stroke-width="1.3"/>
<line x1="225.45" y1="330.54" x2="229.25" y2="330.54" stroke="#111" stroke-width="1.3"/>
<line x1="27.90" y1="351.50" x2="248.70" y2="351.50" stroke="#000" stroke-width="1.2" stroke-dasharray="1.9,1.14" stroke-dashoffset="-0.9"/>
<line x1="27.90" y1="247.60" x2="27.90" y2="386.10" stroke="#000" stroke-width="1.5"/>
<line x1="27.30" y1="385.50" x2="248.70" y2="385.50" stroke="#000" stroke-width="1.5"/>
<line x1="23.90" y1="385.50" x2="27.90" y2="385.50" stroke="#000" stroke-width="1.3"/>
<text x="21.70" y="388.50" font-family='"Liberation Sans", sans-serif' font-size="8.4" font-weight="normal" text-anchor="end" fill="#000">0.5</text>
<line x1="23.90" y1="351.15" x2="27.90" y2="351.15" stroke="#000" stroke-width="1.3"/>
<text x="21.70" y="354.15" font-family='"Liberation Sans", sans-serif' font-size="8.4" font-weight="normal" text-anchor="end" fill="#000">1.0</text>
<line x1="23.90" y1="316.80" x2="27.90" y2="316.80" stroke="#000" stroke-width="1.3"/>
<text x="21.70" y="319.80" font-family='"Liberation Sans", sans-serif' font-size="8.4" font-weight="normal" text-anchor="end" fill="#000">1.5</text>
<line x1="23.90" y1="282.45" x2="27.90" y2="282.45" stroke="#000" stroke-width="1.3"/>
<text x="21.70" y="285.45" font-family='"Liberation Sans", sans-serif' font-size="8.4" font-weight="normal" text-anchor="end" fill="#000">2.0</text>
<line x1="23.90" y1="248.10" x2="27.90" y2="248.10" stroke="#000" stroke-width="1.3"/>
<text x="21.70" y="251.10" font-family='"Liberation Sans", sans-serif' font-size="8.4" font-weight="normal" text-anchor="end" fill="#000">2.5</text>
<line x1="55.10" y1="385.50" x2="55.10" y2="389.00" stroke="#000" stroke-width="1.3"/>
<text x="55.40" y="398.70" font-family='"Liberation Sans", sans-serif' font-size="8.2" font-weight="normal" text-anchor="middle" fill="#000">1</text>
<line x1="110.10" y1="385.50" x2="110.10" y2="389.00" stroke="#000" stroke-width="1.3"/>
<text x="110.40" y="398.70" font-family='"Liberation Sans", sans-serif' font-size="8.2" font-weight="normal" text-anchor="middle" fill="#000">10</text>
<line x1="165.10" y1="385.50" x2="165.10" y2="389.00" stroke="#000" stroke-width="1.3"/>
<text x="165.40" y="398.70" font-family='"Liberation Sans", sans-serif' font-size="8.2" font-weight="normal" text-anchor="middle" fill="#000">50</text>
<line x1="220.30" y1="385.50" x2="220.30" y2="389.00" stroke="#000" stroke-width="1.3"/>
<text x="220.60" y="398.70" font-family='"Liberation Sans", sans-serif' font-size="8.2" font-weight="normal" text-anchor="middle" fill="#000">NHS</text>
<circle cx="44.10" cy="272.20" r="1.4" fill="#000"/>
<circle cx="48.05" cy="272.20" r="1.4" fill="#000"/>
<circle cx="52.00" cy="272.20" r="1.4" fill="#000"/>
<circle cx="99.10" cy="286.10" r="1.4" fill="#000"/>
<circle cx="103.05" cy="286.10" r="1.4" fill="#000"/>
<circle cx="107.00" cy="286.10" r="1.4" fill="#000"/>
<circle cx="156.07" cy="288.80" r="1.4" fill="#000"/>
<circle cx="160.02" cy="288.80" r="1.4" fill="#000"/>
<circle cx="227.35" cy="303.90" r="1.4" fill="#000"/>
<line x1="46.70" y1="403.20" x2="174.60" y2="403.20" stroke="#000" stroke-width="1.5"/>
<text x="111.75" y="413.70" font-family='"Liberation Serif", serif' font-size="11.2" font-weight="bold" text-anchor="middle" fill="#000">SAA (μg/mL)</text>
<text x="7.3" y="310.8" font-family='"Liberation Serif", serif' font-size="8.25" font-weight="bold" text-anchor="middle" transform="rotate(-90 7.3 310.8)">Binding and uptake (relative % GFP<tspan font-size="5" dy="-2.5">+</tspan><tspan dy="2.5">)</tspan></text>
<text x="268.00" y="237.50" font-family='"Liberation Sans", sans-serif' font-size="16" font-weight="bold" text-anchor="start" fill="#000">D</text>
<rect x="313.32" y="297.19" width="7.05" height="88.21" fill="#727272" stroke="#000" stroke-width="1.25"/>
<line x1="316.85" y1="279.24" x2="316.85" y2="315.14" stroke="#222" stroke-width="1.1"/>
<line x1="314.95" y1="279.24" x2="318.75" y2="279.24" stroke="#222" stroke-width="1.3"/>
<line x1="314.95" y1="315.14" x2="318.75" y2="315.14" stroke="#222" stroke-width="1.3"/>
<rect x="320.38" y="350.20" width="7.05" height="35.20" fill="url(#hatch)" stroke="#000" stroke-width="1.25"/>
<line x1="323.90" y1="346.68" x2="323.90" y2="353.72" stroke="#111" stroke-width="1.1"/>
<line x1="322.00" y1="346.68" x2="325.80" y2="346.68" stroke="#111" stroke-width="1.3"/>
<line x1="322.00" y1="353.72" x2="325.80" y2="353.72" stroke="#111" stroke-width="1.3"/>
<rect x="327.43" y="347.38" width="7.05" height="38.02" fill="#fff" stroke="#000" stroke-width="1.25"/>
<line x1="330.95" y1="343.16" x2="330.95" y2="351.61" stroke="#111" stroke-width="1.1"/>
<line x1="329.05" y1="343.16" x2="332.85" y2="343.16" stroke="#111" stroke-width="1.3"/>
<line x1="329.05" y1="351.61" x2="332.85" y2="351.61" stroke="#111" stroke-width="1.3"/>
<rect x="368.32" y="307.82" width="7.05" height="77.58" fill="#727272" stroke="#000" stroke-width="1.25"/>
<line x1="371.85" y1="293.74" x2="371.85" y2="321.90" stroke="#222" stroke-width="1.1"/>
<line x1="369.95" y1="293.74" x2="373.75" y2="293.74" stroke="#222" stroke-width="1.3"/>
<line x1="369.95" y1="321.90" x2="373.75" y2="321.90" stroke="#222" stroke-width="1.3"/>
<rect x="375.38" y="346.40" width="7.05" height="39.00" fill="url(#hatch)" stroke="#000" stroke-width="1.25"/>
<line x1="378.90" y1="342.88" x2="378.90" y2="349.92" stroke="#111" stroke-width="1.1"/>
<line x1="377.00" y1="342.88" x2="380.80" y2="342.88" stroke="#111" stroke-width="1.3"/>
<line x1="377.00" y1="349.92" x2="380.80" y2="349.92" stroke="#111" stroke-width="1.3"/>
<rect x="382.43" y="344.57" width="7.05" height="40.83" fill="#fff" stroke="#000" stroke-width="1.25"/>
<line x1="385.95" y1="341.05" x2="385.95" y2="348.09" stroke="#111" stroke-width="1.1"/>
<line x1="384.05" y1="341.05" x2="387.85" y2="341.05" stroke="#111" stroke-width="1.3"/>
<line x1="384.05" y1="348.09" x2="387.85" y2="348.09" stroke="#111" stroke-width="1.3"/>
<rect x="423.43" y="315.00" width="7.05" height="70.40" fill="#727272" stroke="#000" stroke-width="1.25"/>
<line x1="426.95" y1="294.58" x2="426.95" y2="334.71" stroke="#222" stroke-width="1.1"/>
<line x1="425.05" y1="294.58" x2="428.85" y2="294.58" stroke="#222" stroke-width="1.3"/>
<line x1="425.05" y1="334.71" x2="428.85" y2="334.71" stroke="#222" stroke-width="1.3"/>
<rect x="430.48" y="348.09" width="7.05" height="37.31" fill="url(#hatch)" stroke="#000" stroke-width="1.25"/>
<line x1="434.00" y1="344.92" x2="434.00" y2="351.26" stroke="#111" stroke-width="1.1"/>
<line x1="432.10" y1="344.92" x2="435.90" y2="344.92" stroke="#111" stroke-width="1.3"/>
<line x1="432.10" y1="351.26" x2="435.90" y2="351.26" stroke="#111" stroke-width="1.3"/>
<rect x="437.53" y="341.40" width="7.05" height="44.00" fill="#fff" stroke="#000" stroke-width="1.25"/>
<line x1="441.05" y1="337.88" x2="441.05" y2="344.92" stroke="#111" stroke-width="1.1"/>
<line x1="439.15" y1="337.88" x2="442.95" y2="337.88" stroke="#111" stroke-width="1.3"/>
<line x1="439.15" y1="344.92" x2="442.95" y2="344.92" stroke="#111" stroke-width="1.3"/>
<rect x="478.62" y="264.59" width="7.05" height="120.81" fill="#727272" stroke="#000" stroke-width="1.25"/>
<line x1="482.15" y1="242.77" x2="482.15" y2="287.12" stroke="#222" stroke-width="1.1"/>
<line x1="480.25" y1="242.77" x2="484.05" y2="242.77" stroke="#222" stroke-width="1.3"/>
<line x1="480.25" y1="287.12" x2="484.05" y2="287.12" stroke="#222" stroke-width="1.3"/>
<rect x="485.68" y="325.56" width="7.05" height="59.84" fill="url(#hatch)" stroke="#000" stroke-width="1.25"/>
<line x1="489.20" y1="315.00" x2="489.20" y2="336.12" stroke="#111" stroke-width="1.1"/>
<line x1="487.30" y1="315.00" x2="491.10" y2="315.00" stroke="#111" stroke-width="1.3"/>
<line x1="487.30" y1="336.12" x2="491.10" y2="336.12" stroke="#111" stroke-width="1.3"/>
<rect x="492.73" y="264.59" width="7.05" height="120.81" fill="#fff" stroke="#000" stroke-width="1.25"/>
<line x1="496.25" y1="254.74" x2="496.25" y2="275.15" stroke="#111" stroke-width="1.1"/>
<line x1="494.35" y1="254.74" x2="498.15" y2="254.74" stroke="#111" stroke-width="1.3"/>
<line x1="494.35" y1="275.15" x2="498.15" y2="275.15" stroke="#111" stroke-width="1.3"/>
<line x1="296.60" y1="350.80" x2="517.80" y2="350.80" stroke="#000" stroke-width="1.2" stroke-dasharray="3.5,2.65" stroke-dashoffset="-1.2"/>
<line x1="296.60" y1="244.10" x2="296.60" y2="386.00" stroke="#000" stroke-width="1.5"/>
<line x1="296.00" y1="385.40" x2="517.80" y2="385.40" stroke="#000" stroke-width="1.5"/>
<line x1="292.60" y1="385.40" x2="296.60" y2="385.40" stroke="#000" stroke-width="1.3"/>
<text x="290.40" y="388.40" font-family='"Liberation Sans", sans-serif' font-size="8.4" font-weight="normal" text-anchor="end" fill="#000">0.5</text>
<line x1="292.60" y1="350.20" x2="296.60" y2="350.20" stroke="#000" stroke-width="1.3"/>
<text x="290.40" y="353.20" font-family='"Liberation Sans", sans-serif' font-size="8.4" font-weight="normal" text-anchor="end" fill="#000">1.0</text>
<line x1="292.60" y1="315.00" x2="296.60" y2="315.00" stroke="#000" stroke-width="1.3"/>
<text x="290.40" y="318.00" font-family='"Liberation Sans", sans-serif' font-size="8.4" font-weight="normal" text-anchor="end" fill="#000">1.5</text>
<line x1="292.60" y1="279.80" x2="296.60" y2="279.80" stroke="#000" stroke-width="1.3"/>
<text x="290.40" y="282.80" font-family='"Liberation Sans", sans-serif' font-size="8.4" font-weight="normal" text-anchor="end" fill="#000">2.0</text>
<line x1="292.60" y1="244.60" x2="296.60" y2="244.60" stroke="#000" stroke-width="1.3"/>
<text x="290.40" y="247.60" font-family='"Liberation Sans", sans-serif' font-size="8.4" font-weight="normal" text-anchor="end" fill="#000">2.5</text>
<line x1="323.90" y1="385.40" x2="323.90" y2="388.90" stroke="#000" stroke-width="1.3"/>
<text x="324.20" y="398.70" font-family='"Liberation Sans", sans-serif' font-size="8.2" font-weight="normal" text-anchor="middle" fill="#000">1</text>
<line x1="378.90" y1="385.40" x2="378.90" y2="388.90" stroke="#000" stroke-width="1.3"/>
<text x="379.20" y="398.70" font-family='"Liberation Sans", sans-serif' font-size="8.2" font-weight="normal" text-anchor="middle" fill="#000">10</text>
<line x1="434.00" y1="385.40" x2="434.00" y2="388.90" stroke="#000" stroke-width="1.3"/>
<text x="434.30" y="398.70" font-family='"Liberation Sans", sans-serif' font-size="8.2" font-weight="normal" text-anchor="middle" fill="#000">50</text>
<line x1="489.20" y1="385.40" x2="489.20" y2="388.90" stroke="#000" stroke-width="1.3"/>
<text x="489.50" y="398.70" font-family='"Liberation Sans", sans-serif' font-size="8.2" font-weight="normal" text-anchor="middle" fill="#000">NHS</text>
<circle cx="312.90" cy="272.60" r="1.4" fill="#000"/>
<circle cx="316.85" cy="272.60" r="1.4" fill="#000"/>
<circle cx="320.80" cy="272.60" r="1.4" fill="#000"/>
<circle cx="367.90" cy="286.30" r="1.4" fill="#000"/>
<circle cx="371.85" cy="286.30" r="1.4" fill="#000"/>
<circle cx="375.80" cy="286.30" r="1.4" fill="#000"/>
<circle cx="424.97" cy="286.90" r="1.4" fill="#000"/>
<circle cx="428.93" cy="286.90" r="1.4" fill="#000"/>
<circle cx="496.25" cy="248.70" r="1.4" fill="#000"/>
<line x1="315.90" y1="403.20" x2="443.90" y2="403.20" stroke="#000" stroke-width="1.5"/>
<text x="385.75" y="413.70" font-family='"Liberation Serif", serif' font-size="11.2" font-weight="bold" text-anchor="middle" fill="#000">SAA (μg/mL)</text>
<text x="274.8" y="312.6" font-family='"Liberation Serif", serif' font-size="8.3" font-weight="bold" text-anchor="middle" transform="rotate(-90 274.8 312.6)">Binding and uptake (relative MFI)</text>
</svg>
</body></html>
